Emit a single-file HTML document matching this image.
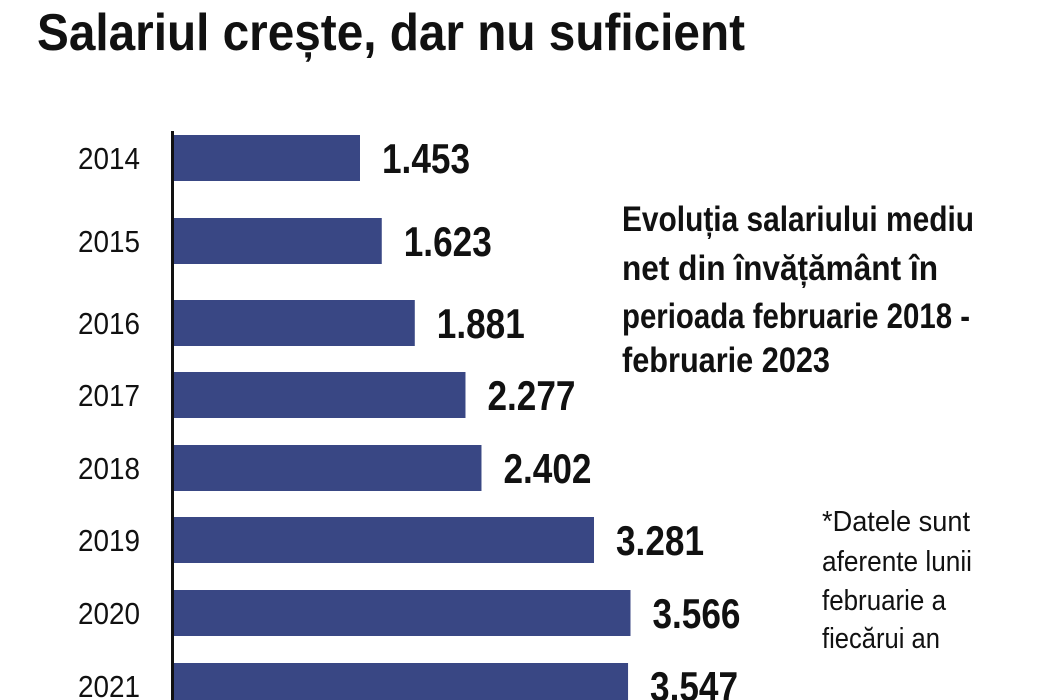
<!DOCTYPE html>
<html><head><meta charset="utf-8">
<style>
html,body{margin:0;padding:0;background:#fff;}
svg{display:block;font-family:"Liberation Sans",sans-serif;}
</style></head>
<body>
<svg id="chart" width="1050" height="700" viewBox="0 0 1050 700" xmlns="http://www.w3.org/2000/svg">
<text x="37" y="50" font-size="52" font-weight="bold" fill="#111" textLength="708" lengthAdjust="spacingAndGlyphs">Salariul crește, dar nu suficient</text>
<g font-size="35" font-weight="bold" fill="#111">
<text x="622" y="231" textLength="352" lengthAdjust="spacingAndGlyphs">Evoluția salariului mediu</text>
<text x="622" y="280" textLength="316" lengthAdjust="spacingAndGlyphs">net din învățământ în</text>
<text x="622" y="328" textLength="348" lengthAdjust="spacingAndGlyphs">perioada februarie 2018 -</text>
<text x="622" y="372" textLength="208" lengthAdjust="spacingAndGlyphs">februarie 2023</text>
</g>
<g font-size="29" fill="#111">
<text x="822" y="531" textLength="148" lengthAdjust="spacingAndGlyphs">*Datele sunt</text>
<text x="822" y="571" textLength="150" lengthAdjust="spacingAndGlyphs">aferente lunii</text>
<text x="822" y="610" textLength="124" lengthAdjust="spacingAndGlyphs">februarie a</text>
<text x="822" y="648" textLength="118" lengthAdjust="spacingAndGlyphs">fiecărui an</text>
</g>
<g id="bars"></g>
<line x1="172.5" y1="131" x2="172.5" y2="700" stroke="#111" stroke-width="3"/>
</svg>
<script>
const categories = ["2014","2015","2016","2017","2018","2019","2020","2021"];
const values = [1453,1623,1881,2277,2402,3281,3566,3547];
const valueLabels = ["1.453","1.623","1.881","2.277","2.402","3.281","3.566","3.547"];
const barTops = [135,218,300,372,445,517,590,663];
const NS = "http://www.w3.org/2000/svg";
const x0 = 174, scale = 186/1453, barH = 46;
function xPos(v){ return x0 + v*scale; }
const g = document.getElementById("bars");
categories.forEach((c,i)=>{
  const y = barTops[i];
  const r = document.createElementNS(NS,"rect");
  
  
  r.setAttribute("x", x0); r.setAttribute("y", y);
  r.setAttribute("width", xPos(values[i]) - x0); r.setAttribute("height", barH);
  r.setAttribute("fill", "#394784");
  g.appendChild(r);
  const yl = document.createElementNS(NS,"text");
  
  
  yl.setAttribute("x", 140); yl.setAttribute("y", y + barH/2 + 11);
  yl.setAttribute("text-anchor", "end"); yl.setAttribute("font-size", "31");
  yl.setAttribute("textLength", "62"); yl.setAttribute("lengthAdjust", "spacingAndGlyphs");
  yl.setAttribute("fill", "#111");
  yl.textContent = c;
  g.appendChild(yl);
  const vl = document.createElementNS(NS,"text");
  
  
  vl.setAttribute("x", xPos(values[i]) + 22); vl.setAttribute("y", y + barH/2 + 15);
  vl.setAttribute("font-size", "42"); vl.setAttribute("font-weight", "bold");
  vl.setAttribute("textLength", "88"); vl.setAttribute("lengthAdjust", "spacingAndGlyphs");
  vl.setAttribute("fill", "#111");
  vl.textContent = valueLabels[i];
  g.appendChild(vl);
});
</script>
</body></html>
